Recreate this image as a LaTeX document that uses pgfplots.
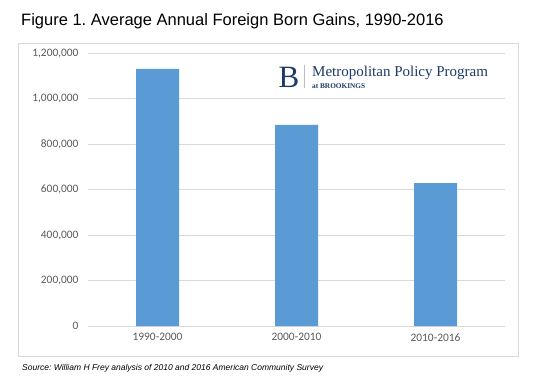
\documentclass[border=0pt]{standalone}
\usepackage{pgfplots}
\pgfplotsset{compat=1.18}
\usepackage{fontspec}
\setmainfont{Liberation Sans}
\newfontfamily\carlito{Carlito}
\newfontfamily\serif{Liberation Serif}
\definecolor{barblue}{HTML}{5B9BD5}
\definecolor{gridgray}{HTML}{D9D9D9}
\definecolor{ticktext}{HTML}{595959}
\definecolor{navy}{HTML}{1F3A68}
\frenchspacing
\begin{document}
\begin{tikzpicture}[x=1bp,y=1bp]
\path[use as bounding box] (0,0) rectangle (539,382);
\fill[white] (0,0) rectangle (539,382);
\draw[gridgray, line width=0.8bp] (18.5,382-43) rectangle (518,382-356);
\node[anchor=base west, inner sep=0pt, font=\fontsize{16.5bp}{18bp}\selectfont] at (21,382-25) {Figure 1. Average Annual Foreign Born Gains, 1990-2016};
\node[anchor=base west, inner sep=0pt, font=\fontsize{8.5bp}{10bp}\selectfont\itshape] at (22,382-370) {Source: William H Frey analysis of 2010 and 2016 American Community Survey};
\begin{axis}[
  at={(88bp,56bp)}, anchor=south west,
  scale only axis, width=417bp, height=272.7bp,
  xmin=-0.5, xmax=2.5, ymin=0, ymax=1200000,
  ytick={0,200000,400000,600000,800000,1000000,1200000},
  scaled y ticks=false,
  /pgf/number format/fixed,
  /pgf/number format/1000 sep={,},
  /pgf/number format/assume math mode=true,
  xtick={0,1,2}, xticklabels={1990-2000,2000-2010,2010-2016},
  ticklabel style={font=\carlito\fontsize{11.4bp}{13bp}\selectfont, text=ticktext},
  xticklabel style={yshift=-4bp},
  yticklabel style={xshift=-6bp},
  major tick length=0pt,
  axis line style={draw=none},
  ymajorgrids, major grid style={gridgray, line width=0.8bp},
  bar width=43bp,
  clip=false,
]
\addplot[ybar, fill=barblue, draw=none] coordinates {(0,1131000) (1,884500) (2,629000)};
\end{axis}
% logo
\node[anchor=base west, inner sep=0pt, text=navy, font=\serif\fontsize{31bp}{33bp}\selectfont] at (278.5,382-87.7) {B};
\draw[gridgray!70!gray, line width=0.6bp] (304,382-65) -- (304,382-88);
\node[anchor=base west, inner sep=0pt, text=navy, font=\serif\fontsize{15bp}{17bp}\selectfont] at (312,382-76.7) {\makebox[0pt][l]{\raisebox{-11.3bp}{\bfseries\fontsize{7.3bp}{8bp}\selectfont at BROOKINGS}}Metropolitan Policy Program};
\end{tikzpicture}
\end{document}
